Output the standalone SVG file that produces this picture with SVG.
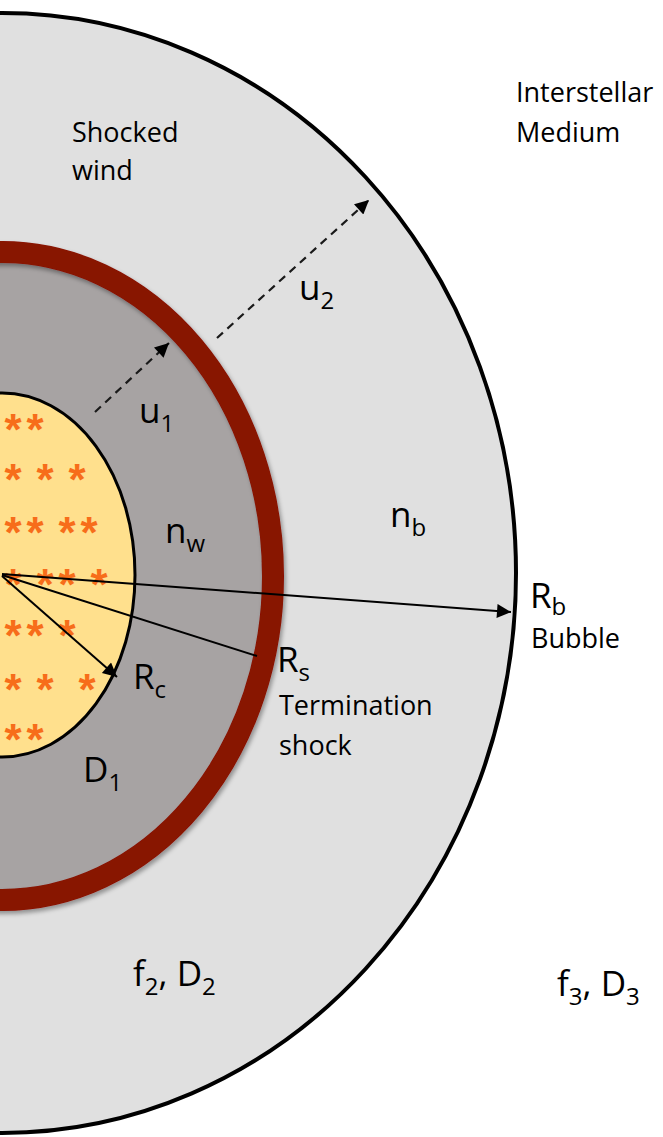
<svg xmlns="http://www.w3.org/2000/svg" width="663" height="1137" viewBox="0 0 663 1137">
<defs>
<style>
.lbl{font-family:"Open Sans","Liberation Sans",sans-serif;fill:#000;}
.big{font-size:35px;}
.mid{font-size:27px;}
.sub{font-size:24px;}
.ast{font-family:"Liberation Sans",sans-serif;font-size:44px;font-weight:bold;fill:#f76d1a;text-anchor:middle;}
.conn{stroke:#000;stroke-width:2;fill:none;}
.dash{stroke:#1a1a1a;stroke-width:2.2;fill:none;stroke-dasharray:8 6;}
</style>
<marker id="ah2" viewBox="0 0 10 10" refX="10" refY="5" markerWidth="16" markerHeight="14" markerUnits="userSpaceOnUse" orient="auto">
<path d="M0,0 L10,5 L0,10 z" fill="#000"/>
</marker>
<filter id="sh" x="-20%" y="-20%" width="140%" height="140%">
<feDropShadow dx="2" dy="3" stdDeviation="2" flood-color="#000" flood-opacity="0.35"/>
</filter>
</defs>
<rect width="663" height="1137" fill="#fff"/>
<g id="bubble">
<ellipse cx="2" cy="573" rx="514" ry="560" fill="#e0e0e0" stroke="#000" stroke-width="4"/>
</g>
<g id="shocked-wind-region">
<ellipse cx="2" cy="576" rx="270" ry="324" fill="#a7a3a3"/>
</g>
<g id="termination-shock">
<ellipse cx="2" cy="576" rx="271" ry="324" fill="none" stroke="#881200" stroke-width="22" filter="url(#sh)"/>
</g>
<g id="core">
<ellipse cx="2" cy="575" rx="133" ry="182" fill="#ffe08d" stroke="#000" stroke-width="3"/>
<text class="ast" x="13 35" y="445">**</text>
<text class="ast" x="13 45 77" y="495">***</text>
<text class="ast" x="13 35 67 89" y="548">****</text>
<text class="ast" x="13 45 67 99" y="600">****</text>
<text class="ast" x="13 35 67" y="651">***</text>
<text class="ast" x="13 45 87" y="705">***</text>
<text class="ast" x="13 35" y="755">**</text>
</g>
<g id="connectors">
<line class="conn" x1="2" y1="574" x2="511" y2="612" marker-end="url(#ah2)"/>
<line class="conn" x1="2" y1="575" x2="257" y2="656"/>
<line class="conn" x1="2" y1="576" x2="117" y2="677" marker-end="url(#ah2)"/>
<line class="dash" x1="95" y1="412" x2="169" y2="343" marker-end="url(#ah2)"/>
<line class="dash" x1="217" y1="338" x2="369" y2="200" marker-end="url(#ah2)"/>
</g>
<g id="labels">
<text class="lbl mid" x="516" y="102">Interstellar</text>
<text class="lbl mid" x="516" y="142">Medium</text>
<text class="lbl mid" x="72" y="142">Shocked</text>
<text class="lbl mid" x="72" y="180">wind</text>
<text class="lbl big" x="299" y="300">u<tspan class="sub" dy="9">2</tspan></text>
<text class="lbl big" x="139" y="423">u<tspan class="sub" dy="9">1</tspan></text>
<text class="lbl big" x="165" y="543">n<tspan class="sub" dy="9">w</tspan></text>
<text class="lbl big" x="390" y="527">n<tspan class="sub" dy="9">b</tspan></text>
<text class="lbl big" x="530" y="608">R<tspan class="sub" dy="7">b</tspan></text>
<text class="lbl mid" x="531" y="648">Bubble</text>
<text class="lbl big" x="277" y="672">R<tspan class="sub" dy="9">s</tspan></text>
<text class="lbl mid" x="279" y="715">Termination</text>
<text class="lbl mid" x="279" y="755">shock</text>
<text class="lbl big" x="133" y="689">R<tspan class="sub" dy="9">c</tspan></text>
<text class="lbl big" x="83" y="782">D<tspan class="sub" dy="9">1</tspan></text>
<text class="lbl big" x="133" y="986">f<tspan class="sub" dy="9">2</tspan><tspan dy="-9">, D</tspan><tspan class="sub" dy="9">2</tspan></text>
<text class="lbl big" x="557" y="996">f<tspan class="sub" dy="9">3</tspan><tspan dy="-9">, D</tspan><tspan class="sub" dy="9">3</tspan></text>
</g>
</svg>
